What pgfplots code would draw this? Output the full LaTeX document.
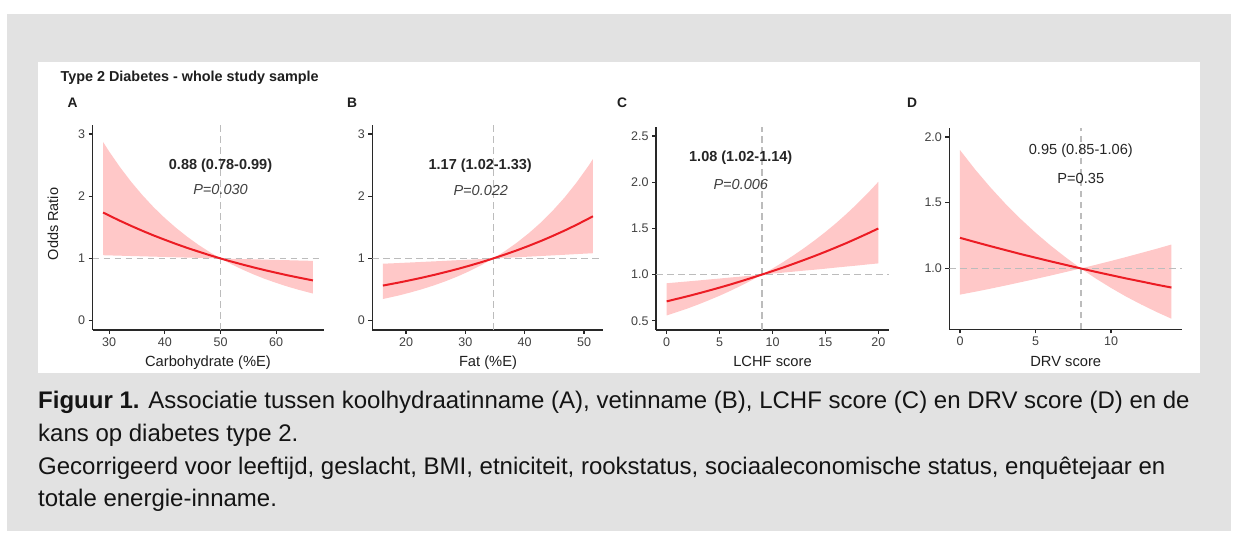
\documentclass[border=0pt]{standalone}
\usepackage{fontspec}
\setmainfont{Liberation Sans}
\usepackage{pgfplots}
\pgfplotsset{compat=1.18}
\usepackage{pgfplotstable}

\definecolor{bggray}{RGB}{226,226,226}
\definecolor{orline}{RGB}{236,28,36}
\definecolor{orband}{RGB}{255,200,200}
\definecolor{refgray}{RGB}{188,188,188}
\definecolor{axgray}{RGB}{40,40,40}
\definecolor{ticktext}{RGB}{65,65,65}

\newcommand{\fs}[1]{\fontsize{#1}{#1}\selectfont}

% estimated odds ratio curves (x, OR)
\pgfplotstableread{
x est
28.9 1.738
30 1.689
32 1.603
34 1.521
36 1.443
38 1.369
40 1.300
42 1.233
44 1.170
46 1.111
48 1.054
50 1.000
52 0.949
54 0.901
56 0.855
58 0.811
60 0.770
62 0.730
64 0.693
66.6 0.647
}\lineA
\pgfplotstableread{
x est
16.1 0.564
18.7 0.611
20.7 0.650
22.7 0.691
24.7 0.735
26.7 0.782
28.7 0.831
30.7 0.884
32.7 0.940
34.7 1.000
36.7 1.064
38.7 1.131
40.7 1.203
42.7 1.279
44.7 1.361
46.7 1.447
48.7 1.539
50.7 1.637
51.5 1.678
}\lineB
\pgfplotstableread{
x est
0 0.710
1 0.738
2 0.766
3 0.796
4 0.827
5 0.859
6 0.892
7 0.927
8 0.963
9 1.000
10 1.038
11 1.076
12 1.117
13 1.159
14 1.202
15 1.247
16 1.294
17 1.342
18 1.393
19 1.445
20 1.499
}\lineC
\pgfplotstableread{
x est
0 1.233
1 1.201
2 1.170
3 1.140
4 1.110
5 1.082
6 1.054
7 1.027
8 1.000
9 0.974
10 0.949
11 0.924
12 0.901
13 0.877
14 0.855
}\lineD

% 95% CI bands as closed outlines: upper edge left to right, lower edge back
\pgfplotstableread{
x y
28.9 2.872
30 2.718
32 2.460
34 2.226
36 2.014
38 1.822
40 1.649
42 1.492
44 1.350
46 1.221
48 1.105
50 1.000
52 0.995
54 0.990
56 0.986
58 0.981
60 0.976
62 0.972
64 0.967
66.6 0.961
66.6 0.436
64 0.497
62 0.549
60 0.607
58 0.670
56 0.741
54 0.819
52 0.905
50 1.000
48 1.005
46 1.010
44 1.014
42 1.019
40 1.024
38 1.029
36 1.034
34 1.039
32 1.044
30 1.049
28.9 1.052
}\bandA
\pgfplotstableread{
x y
16.1 0.915
18.7 0.926
20.7 0.935
22.7 0.944
24.7 0.953
26.7 0.962
28.7 0.972
30.7 0.981
32.7 0.990
34.7 1.000
36.7 1.120
38.7 1.255
40.7 1.406
42.7 1.575
44.7 1.765
46.7 1.977
48.7 2.215
50.7 2.481
51.5 2.597
51.5 1.084
50.7 1.080
48.7 1.070
46.7 1.059
44.7 1.049
42.7 1.039
40.7 1.029
38.7 1.019
36.7 1.010
34.7 1.000
32.7 0.893
30.7 0.797
28.7 0.711
26.7 0.635
24.7 0.567
22.7 0.506
20.7 0.452
18.7 0.403
16.1 0.348
}\bandB
\pgfplotstableread{
x y
0 0.906
1 0.916
2 0.926
3 0.936
4 0.947
5 0.957
6 0.968
7 0.978
8 0.989
9 1.000
10 1.065
11 1.135
12 1.209
13 1.288
14 1.372
15 1.461
16 1.556
17 1.658
18 1.766
19 1.881
20 2.004
20 1.121
19 1.110
18 1.098
17 1.087
16 1.076
15 1.064
14 1.053
13 1.043
12 1.032
11 1.021
10 1.011
9 1.000
8 0.937
7 0.878
6 0.823
5 0.771
4 0.723
3 0.677
2 0.634
1 0.595
0 0.557
}\bandC
\pgfplotstableread{
x y
0 1.900
1 1.753
2 1.618
3 1.493
4 1.378
5 1.272
6 1.174
7 1.084
8 1.000
9 1.028
10 1.057
11 1.087
12 1.118
13 1.149
14 1.182
14 0.618
13 0.670
12 0.726
11 0.786
10 0.852
9 0.923
8 1.000
7 0.973
6 0.946
5 0.920
4 0.895
3 0.870
2 0.846
1 0.823
0 0.801
}\bandD

\pgfplotsset{
  orpanel/.style={
    scale only axis,
    anchor=south west,
    axis x line*=bottom, axis y line*=left,
    axis line style={axgray, line width=1.6pt},
    tick align=outside,
    major tick length=4pt,
    tick style={axgray, line width=1.2pt},
    ticklabel style={font=\fs{12.5}, text=ticktext},
  },
  refdash/.style={refgray, line width=1.4pt, dash pattern=on 6.5pt off 4.5pt},
  ortrend/.style={orline, line width=2pt},
  orfill/.style={fill=orband, draw=none},
}

\begin{document}
\begin{tikzpicture}
\fill[white] (0,0) rectangle (1234pt,534pt);
\fill[bggray] (7pt,3pt) rectangle (1231pt,520pt);
\fill[white] (38pt,161pt) rectangle (1200pt,472pt);

\node[anchor=base west, font=\fs{14.4}\bfseries, text=black!88] at (57pt,452.3pt) {Type 2 Diabetes - whole study sample};
\foreach \lx/\lt in {72.5/A, 352/B, 622/C, 912/D}
  \node[font=\fs{13.8}\bfseries, text=black!88] at (\lx pt,431pt) {\lt};

% A
\begin{axis}[orpanel, at={(92.5pt,204pt)}, width=231pt, height=205.3pt,
  xmin=27.0, xmax=68.5, ymin=-0.15, ymax=3.15,
  xtick={30,40,50,60}, xticklabels={30,40,50,60},
  ytick={0,1,2,3}, yticklabels={0,1,2,3}]
\addplot[orfill] table {\bandA};
\addplot[refdash] coordinates {(27.0,1) (68.5,1)};
\addplot[refdash] coordinates {(50,-0.15) (50,3.15)};
\addplot[ortrend] table[x=x,y=est] {\lineA};
\node[font=\fs{14.5}\bfseries, text=black!85] at (50,2.49) {0.88 (0.78-0.99)};
\node[font=\fs{14.5}\itshape, text=black!75] at (50,2.11) {P=0.030};
\end{axis}

% B
\begin{axis}[orpanel, at={(372.4pt,204pt)}, width=231pt, height=205.3pt,
  xmin=14.33, xmax=53.27, ymin=-0.15, ymax=3.15,
  xtick={20,30,40,50}, xticklabels={20,30,40,50},
  ytick={0,1,2,3}, yticklabels={0,1,2,3}]
\addplot[orfill] table {\bandB};
\addplot[refdash] coordinates {(14.33,1) (53.27,1)};
\addplot[refdash] coordinates {(34.7,-0.15) (34.7,3.15)};
\addplot[ortrend] table[x=x,y=est] {\lineB};
\node[font=\fs{14.5}\bfseries, text=black!85] at (32.5,2.49) {1.17 (1.02-1.33)};
\node[font=\fs{14.5}\itshape, text=black!75] at (32.6,2.09) {P=0.022};
\end{axis}

% C
\begin{axis}[orpanel, at={(656.1pt,204pt)}, width=232.8pt, height=203.2pt,
  xmin=-1, xmax=21, ymin=0.4, ymax=2.6,
  xtick={0,5,10,15,20}, xticklabels={0,5,10,15,20},
  ytick={0.5,1,1.5,2,2.5}, yticklabels={0.5,1.0,1.5,2.0,2.5}]
\addplot[orfill] table {\bandC};
\addplot[refdash] coordinates {(-1,1) (21,1)};
\addplot[refdash] coordinates {(9,0.4) (9,2.6)};
\addplot[ortrend] table[x=x,y=est] {\lineC};
\node[font=\fs{14.5}\bfseries, text=black!85] at (7,2.27) {1.08 (1.02-1.14)};
\node[font=\fs{14.5}\itshape, text=black!75] at (7,1.98) {P=0.006};
\end{axis}

% D
\begin{axis}[orpanel, at={(949.4pt,204.5pt)}, width=232.6pt, height=201pt,
  xmin=-0.7, xmax=14.7, ymin=0.536, ymax=2.064,
  xtick={0,5,10}, xticklabels={0,5,10},
  ytick={1,1.5,2}, yticklabels={1.0,1.5,2.0}]
\addplot[orfill] table {\bandD};
\addplot[refdash] coordinates {(-0.7,1) (14.7,1)};
\addplot[refdash] coordinates {(8,0.536) (8,2.064)};
\addplot[ortrend] table[x=x,y=est] {\lineD};
\node[font=\fs{14.6}, text=black!85] at (8,1.896) {0.95 (0.85-1.06)};
\node[font=\fs{14.6}, text=black!85] at (8,1.686) {P=0.35};
\end{axis}

\node[rotate=90, font=\fs{14.5}, text=black!88] at (53pt,310pt) {Odds Ratio};
\foreach \cx/\lab in {208/{Carbohydrate (\%E)}, 488/{Fat (\%E)}, 772.5/{LCHF score}, 1065.7/{DRV score}}
  \node[anchor=base, font=\fs{14.7}, text=black!88] at (\cx pt,167pt) {\lab};

\begin{scope}[every node/.style={anchor=base west, font=\fs{24}, text=black!92, inner sep=0pt}]
\node at (38pt,125.4pt) {\textbf{Figuur 1.} Associatie tussen koolhydraatinname (A), vetinname (B), LCHF score (C) en DRV score (D) en de};
\node at (38pt,92.6pt) {kans op diabetes type 2.};
\node at (38pt,59.7pt) {Gecorrigeerd voor leeftijd, geslacht, BMI, etniciteit, rookstatus, sociaaleconomische status, enquêtejaar en};
\node at (38pt,27pt) {totale energie-inname.};
\end{scope}
\end{tikzpicture}
\end{document}
